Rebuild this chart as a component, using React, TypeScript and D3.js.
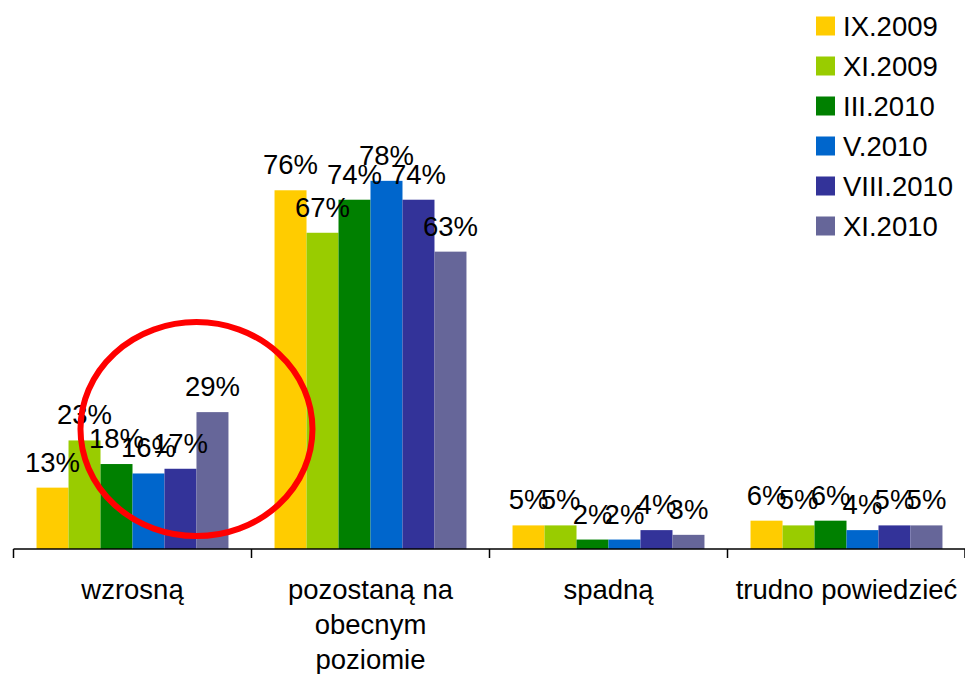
import React from "react";
import * as d3 from "d3";

const categories = ["wzrosną", "pozostaną na obecnym poziomie", "spadną", "trudno powiedzieć"];
const categoryLines = [["wzrosną"], ["pozostaną na", "obecnym", "poziomie"], ["spadną"], ["trudno powiedzieć"]];
const seriesNames = ["IX.2009", "XI.2009", "III.2010", "V.2010", "VIII.2010", "XI.2010"];
const seriesColors = ["#FFCC00", "#99CC00", "#008000", "#0066CC", "#333399", "#666699"];
const values_IX2009 = [13, 76, 5, 6];
const values_XI2009 = [23, 67, 5, 5];
const values_III2010 = [18, 74, 2, 6];
const values_V2010 = [16, 78, 2, 4];
const values_VIII2010 = [17, 74, 4, 5];
const values_XI2010 = [29, 63, 3, 5];
const seriesValues = [values_IX2009, values_XI2009, values_III2010, values_V2010, values_VIII2010, values_XI2010];

const W = 965;
const H = 674;
const FONT = "'Liberation Sans', Arial, sans-serif";

export default function App() {
  const axisY = 549;
  const x = d3.scaleBand<string>().domain(categories).range([13.5, 965.5]).paddingInner(0).paddingOuter(0);
  const xs = d3
    .scaleBand<string>()
    .domain(seriesNames)
    .range([0, x.bandwidth()])
    .paddingOuter(0.72)
    .paddingInner(0);
  const y = d3.scaleLinear().domain([0, 100]).range([axisY, axisY - 472]);

  const ticks = [...categories.map((c) => x(c)!), 965];

  const circCat = categories[0];
  const circCx = x(circCat)! + xs(seriesNames[5])!;
  const circCy = y(25.4);

  return (
    <svg width={W} height={H} style={{ position: "absolute", left: 0, top: 0, background: "#fff" }} fontFamily={FONT}>
      {seriesValues.map((vals, si) =>
        vals.map((v, ci) => (
          <rect
            key={`b${si}-${ci}`}
            x={x(categories[ci])! + xs(seriesNames[si])!}
            y={y(v)}
            width={xs.bandwidth()}
            height={axisY - y(v)}
            fill={seriesColors[si]}
          />
        ))
      )}
      <line x1={13.5} x2={965} y1={axisY} y2={axisY} stroke="#000" strokeWidth={1.5} />
      {ticks.map((t, i) => (
        <line key={`t${i}`} x1={t} x2={t} y1={axisY} y2={axisY + 9} stroke="#000" strokeWidth={1.5} />
      ))}
      {categories.map((c, ci) => (
        <text key={`c${ci}`} textAnchor="middle" fontSize={27.5} fill="#000">
          {categoryLines[ci].map((ln, li) => (
            <tspan key={li} x={x(c)! + x.bandwidth() / 2} y={599 + li * 35}>
              {ln}
            </tspan>
          ))}
        </text>
      ))}
      {seriesValues.map((vals, si) =>
        vals.map((v, ci) => (
          <text
            key={`l${si}-${ci}`}
            x={x(categories[ci])! + xs(seriesNames[si])! + xs.bandwidth() / 2}
            y={y(v) - 16}
            textAnchor="middle"
            fontSize={27.5}
            fill="#000"
          >
            {v}%
          </text>
        ))
      )}
      <ellipse cx={circCx} cy={circCy} rx={116} ry={107} fill="none" stroke="#FF0000" strokeWidth={6} />
      {seriesNames.map((s, i) => (
        <g key={`lg${i}`} transform={`translate(816, ${26 + i * 40})`}>
          <rect x={0} y={-9.5} width={19} height={19} fill={seriesColors[i]} />
          <text x={27} y={10} fontSize={27.5} fill="#000">
            {s}
          </text>
        </g>
      ))}
    </svg>
  );
}
